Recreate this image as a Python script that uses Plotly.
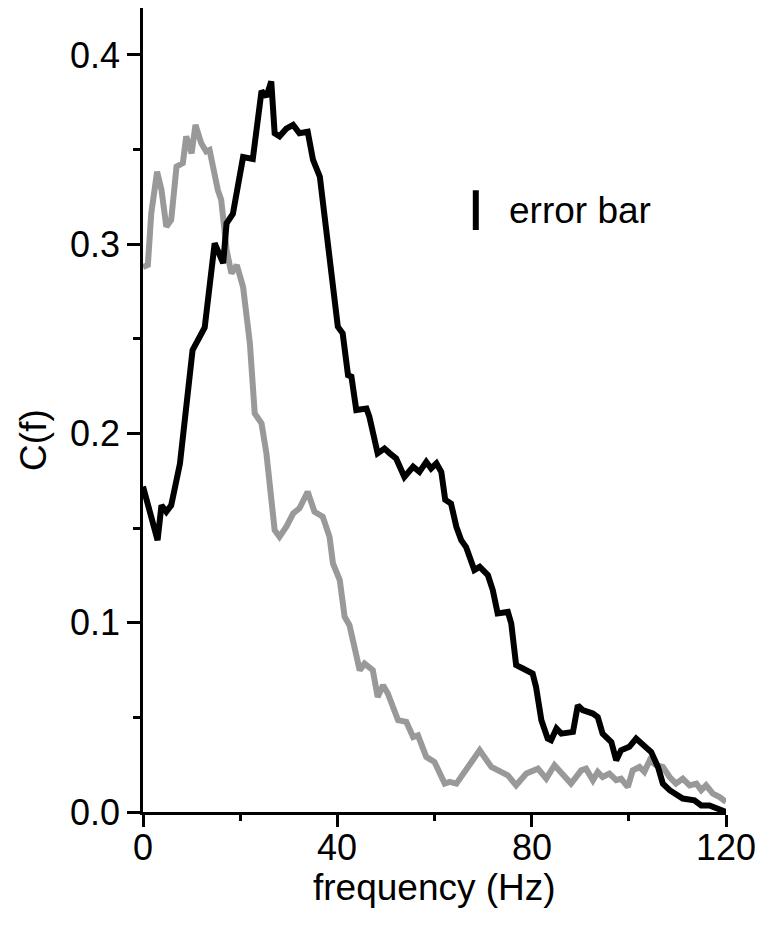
import plotly.graph_objects as go

# Coherence spectra C(f) versus frequency for two conditions
freq_black = [0.0, 3.0, 3.8, 4.8, 5.8, 7.6, 10.2, 12.7, 14.75, 16.5, 17.2, 18.5, 20.6, 22.6,
              24.4, 25.4, 26.4, 27.1, 28.1, 29.5, 30.9, 32.2, 33.9, 35.0, 36.4, 37.7, 39.4,
              40.1, 41.1, 42.2, 42.9, 43.9, 46.0, 46.6, 48.3, 49.7, 50.8, 52.1, 53.8, 55.6,
              56.9, 58.3, 59.3, 60.4, 61.4, 62.2, 63.4, 64.5, 65.5, 66.5, 68.2, 69.3, 71.0,
              72.0, 73.0, 75.1, 75.8, 76.8, 78.2, 80.2, 80.9, 82.0, 83.3, 84.0, 85.1, 86.1,
              88.5, 89.5, 90.5, 92.6, 93.6, 94.6, 96.4, 97.4, 98.4, 100.1, 101.5, 102.9,
              104.6, 106.0, 107.0, 108.4, 111.1, 113.5, 114.9, 116.6, 118.7, 120.0]
coh_black = [0.172, 0.1436, 0.162, 0.1586, 0.162, 0.184, 0.244, 0.256, 0.3005, 0.29, 0.311,
             0.316, 0.346, 0.345, 0.381, 0.378, 0.386, 0.3586, 0.357, 0.361, 0.363, 0.3586,
             0.3594, 0.3445, 0.3357, 0.306, 0.2705, 0.2564, 0.2529, 0.2308, 0.23, 0.2124,
             0.2132, 0.2088, 0.1895, 0.192, 0.1895, 0.1868, 0.177, 0.1824, 0.1797, 0.185,
             0.1815, 0.1842, 0.1797, 0.165, 0.163, 0.1507, 0.1436, 0.14, 0.1278, 0.1295,
             0.1251, 0.1172, 0.1049, 0.1057, 0.0996, 0.0776, 0.0758, 0.0732, 0.0661, 0.0485,
             0.0388, 0.0379, 0.0441, 0.0414, 0.0423, 0.0564, 0.0538, 0.052, 0.0502, 0.0414,
             0.037, 0.0273, 0.0326, 0.0344, 0.0388, 0.0353, 0.0317, 0.0238, 0.015, 0.0115,
             0.0071, 0.0062, 0.0035, 0.0035, 0.001, 0.0]

freq_gray = [0.0, 1.0, 1.7, 2.9, 3.8, 4.8, 5.8, 6.9, 8.2, 8.9, 10.0, 10.8, 12.0, 13.0, 13.7,
             14.8, 15.4, 16.1, 17.2, 18.2, 19.3, 20.6, 22.0, 23.0, 24.4, 25.4, 27.1, 28.1,
             29.5, 30.9, 32.2, 33.9, 35.3, 37.0, 38.4, 39.1, 40.5, 41.5, 42.5, 44.6, 45.6,
             47.3, 48.3, 49.4, 50.4, 52.5, 54.2, 55.6, 56.6, 58.3, 60.0, 62.1, 63.1, 64.5,
             67.2, 69.3, 71.7, 73.4, 75.1, 76.8, 78.9, 81.3, 83.0, 84.7, 86.4, 88.1, 90.2,
             91.2, 92.6, 93.6, 94.6, 96.0, 97.4, 98.4, 99.8, 100.8, 102.2, 103.2, 104.3,
             105.6, 107.0, 108.4, 109.7, 111.1, 112.5, 113.9, 114.9, 115.9, 117.3, 118.7,
             120.0]
coh_gray = [0.288, 0.289, 0.3163, 0.3383, 0.3287, 0.3093, 0.3128, 0.341, 0.3428, 0.357,
            0.348, 0.363, 0.3533, 0.349, 0.3498, 0.3357, 0.3287, 0.3234, 0.297, 0.2846,
            0.289, 0.2775, 0.2476, 0.2106, 0.2053, 0.1895, 0.1489, 0.1454, 0.1507, 0.1577,
            0.1604, 0.1692, 0.1586, 0.156, 0.1454, 0.1313, 0.1225, 0.1031, 0.0987, 0.0749,
            0.0784, 0.0749, 0.0608, 0.067, 0.0626, 0.0485, 0.0476, 0.0396, 0.0405, 0.0291,
            0.0264, 0.015, 0.0159, 0.015, 0.0256, 0.0326, 0.0238, 0.022, 0.0194, 0.0141,
            0.0203, 0.0229, 0.0176, 0.0247, 0.0194, 0.015, 0.022, 0.0229, 0.0168, 0.0212,
            0.0185, 0.0203, 0.0168, 0.0176, 0.0132, 0.022, 0.0238, 0.0212, 0.0273, 0.0247,
            0.0238, 0.0185, 0.015, 0.0176, 0.0141, 0.015, 0.0115, 0.0141, 0.0097, 0.0079,
            0.0053]

# Representative error bar shown as a key
err_x = [68.5]
err_y = [0.318]
err_half = [0.0105]

x_ticks = [0, 40, 80, 120]
x_ticklabels = ["0", "40", "80", "120"]
y_ticks = [0.0, 0.1, 0.2, 0.3, 0.4]
y_ticklabels = ["0.0", "0.1", "0.2", "0.3", "0.4"]

FONT = "Liberation Sans, Arial, Helvetica, sans-serif"

fig = go.Figure()
fig.add_trace(go.Scatter(x=freq_gray, y=coh_gray, mode="lines",
                         line=dict(color="#999999", width=6), showlegend=False))
fig.add_trace(go.Scatter(x=freq_black, y=coh_black, mode="lines",
                         line=dict(color="#000000", width=6), showlegend=False))
fig.add_trace(go.Scatter(x=err_x, y=err_y, mode="markers",
                         marker=dict(size=1, color="rgba(0,0,0,0)"),
                         error_y=dict(type="data", array=err_half, visible=True,
                                      color="#000000", thickness=6, width=0),
                         showlegend=False))

fig.add_annotation(x=75.0, y=0.318, xref="x", yref="y", text="error bar",
                   showarrow=False, xanchor="left", yanchor="middle",
                   font=dict(family=FONT, size=37, color="#000000"))

# x tick labels placed close under the tick marks
for xv, lab in zip(x_ticks, x_ticklabels):
    fig.add_annotation(x=xv, y=-0.0439, xref="x", yref="paper", text=lab,
                       showarrow=False, xanchor="center", yanchor="middle",
                       font=dict(family=FONT, size=36, color="#000000"))

fig.add_annotation(x=0.5, y=-0.0935, xref="paper", yref="paper", text="frequency (Hz)",
                   showarrow=False, xanchor="center", yanchor="middle",
                   font=dict(family=FONT, size=37, color="#000000"))
fig.add_annotation(x=-0.189, y=0.1965, xref="paper", yref="y", text="C(f)",
                   textangle=-90, showarrow=False, xanchor="center", yanchor="middle",
                   font=dict(family=FONT, size=37, color="#000000"))

fig.update_xaxes(range=[0, 120], tickvals=x_ticks, showticklabels=False,
                 ticks="outside", ticklen=12,
                 tickwidth=2.5, tickcolor="#000000", showline=True, linewidth=2.5,
                 linecolor="#000000", showgrid=False, zeroline=False,
                 minor=dict(dtick=20, tick0=0, ticks="outside", ticklen=6,
                            tickwidth=2.5, tickcolor="#000000", showgrid=False))
fig.update_yaxes(range=[0, 0.4248], tickvals=y_ticks, ticktext=y_ticklabels,
                 ticks="outside", ticklen=13, tickwidth=2.5, tickcolor="#000000",
                 showline=True, linewidth=2.5, linecolor="#000000", showgrid=False,
                 zeroline=False, tickfont=dict(family=FONT, size=36, color="#000000"),
                 minor=dict(dtick=0.05, tick0=0, ticks="outside", ticklen=7,
                            tickwidth=2.5, tickcolor="#000000", showgrid=False))

fig.update_layout(width=761, height=925, margin=dict(l=143, r=35, t=8, b=113),
                  plot_bgcolor="#ffffff", paper_bgcolor="#ffffff", showlegend=False)

fig.write_html("out.html")
